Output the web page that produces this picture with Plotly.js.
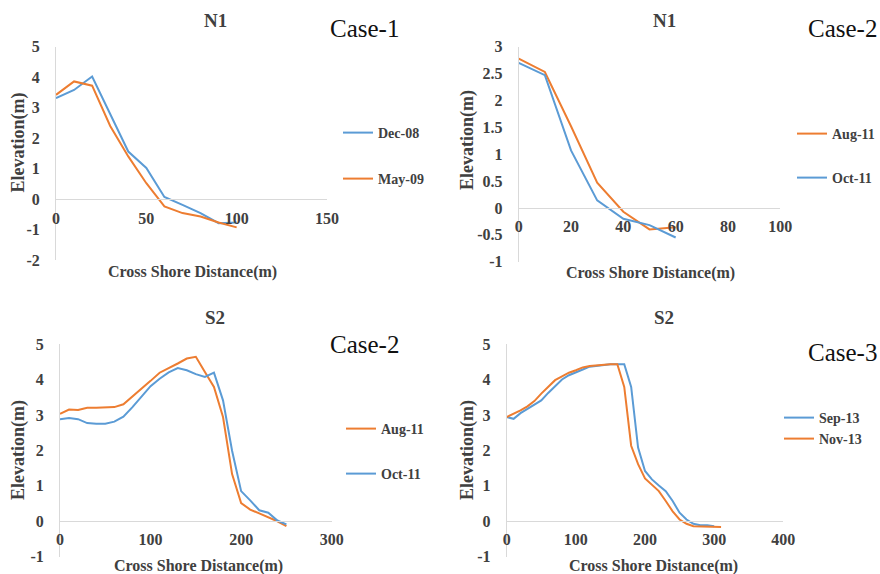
<!DOCTYPE html>
<html>
<head>
<meta charset="utf-8">
<script src="https://cdn.plot.ly/plotly-3.0.1.min.js"></script>
<style>html,body{margin:0;padding:0;background:#fff;}#chart{width:880px;height:574px;}</style>
</head>
<body>
<div id="chart"></div>
<script>
// ---------- DATA ----------
// Panel 1: N1, Case-1
const p1X = [0, 10, 20, 30, 40, 50, 60, 70, 80, 90, 100];
const p1Dec08 = [3.31, 3.58, 4.02, 2.77, 1.56, 1.02, 0.07, -0.19, -0.46, -0.79, -0.77];
const p1May09 = [3.42, 3.86, 3.72, 2.40, 1.40, 0.52, -0.24, -0.46, -0.57, -0.77, -0.93];
// Panel 2: N1, Case-2
const p2X = [0, 10, 20, 30, 40, 50, 60];
const p2Aug11 = [2.78, 2.53, 1.52, 0.47, -0.07, -0.40, -0.36];
const p2Oct11 = [2.70, 2.47, 1.07, 0.14, -0.20, -0.32, -0.55];
// Panel 3: S2, Case-2
const p3X = [0, 10, 20, 30, 40, 50, 60, 70, 80, 90, 100, 110, 120, 130, 140, 150, 160, 170, 180, 190, 200, 210, 220, 230, 240, 250];
const p3Aug11 = [3.03, 3.15, 3.14, 3.20, 3.20, 3.20, 3.22, 3.30, 3.52, 3.72, 3.96, 4.19, 4.31, 4.45, 4.59, 4.64, 4.21, 3.79, 2.94, 1.33, 0.51, 0.33, 0.22, 0.11, 0.00, -0.14];
const p3Oct11 = [2.88, 2.91, 2.88, 2.77, 2.75, 2.75, 2.81, 2.95, 3.22, 3.52, 3.81, 4.02, 4.20, 4.32, 4.26, 4.15, 4.07, 4.19, 3.41, 1.99, 0.85, 0.59, 0.31, 0.24, 0.02, -0.09];
// Panel 4: S2, Case-3
const p4SepX = [0, 10, 20, 30, 40, 50, 60, 70, 80, 90, 100, 110, 120, 130, 140, 150, 160, 170, 180, 190, 200, 210, 220, 230, 240, 250, 260, 270, 280, 290, 300];
const p4Sep13 = [2.94, 2.89, 3.05, 3.17, 3.27, 3.41, 3.62, 3.81, 4.00, 4.12, 4.21, 4.28, 4.36, 4.39, 4.42, 4.43, 4.43, 4.43, 3.79, 2.08, 1.42, 1.18, 1.01, 0.85, 0.57, 0.24, 0.05, -0.07, -0.11, -0.11, -0.14];
const p4NovX = [0, 10, 20, 30, 40, 50, 60, 70, 80, 90, 100, 110, 120, 130, 140, 150, 160, 170, 180, 190, 200, 210, 220, 230, 240, 250, 260, 270, 280, 290, 300, 310];
const p4Nov13 = [2.94, 3.03, 3.13, 3.24, 3.39, 3.60, 3.79, 3.98, 4.09, 4.19, 4.26, 4.34, 4.38, 4.40, 4.43, 4.43, 4.43, 3.79, 2.13, 1.61, 1.21, 1.04, 0.85, 0.57, 0.28, 0.05, -0.07, -0.14, -0.14, -0.14, -0.16, -0.16];

// Tick values / labels
const p1XTicks = [0, 50, 100, 150];
const p1YTicks = [-2, -1, 0, 1, 2, 3, 4, 5];
const p1YLabels = ['-2', '-1', '0', '1', '2', '3', '4', '5'];
const p2XTicks = [0, 20, 40, 60, 80, 100];
const p2YTicks = [-1, -0.5, 0, 0.5, 1, 1.5, 2, 2.5, 3];
const p2YLabels = ['-1', '-0.5', '0', '0.5', '1', '1.5', '2', '2.5', '3'];
const p3XTicks = [0, 100, 200, 300];
const p4XTicks = [0, 100, 200, 300, 400];
const p34YTicks = [-1, 0, 1, 2, 3, 4, 5];
const p34YLabels = ['-1', '0', '1', '2', '3', '4', '5'];

const titles = ['N1', 'N1', 'S2', 'S2'];
const cases = ['Case-1', 'Case-2', 'Case-2', 'Case-3'];
const xTitle = 'Cross Shore Distance(m)';
const yTitle = 'Elevation(m)';

// ---------- STYLE / LAYOUT ----------
const W = 880, H = 574;
const fx = p => p / W;
const fy = p => 1 - p / H;
const BLUE = '#5B9BD5', ORANGE = '#ED7D31';
const AXC = '#D9D9D9', TXT = '#404040';
const SERIF = '"Liberation Serif", "Times New Roman", serif';
const tickFont = {family: SERIF, size: 16, color: TXT, weight: 'bold'};
const legFont = {family: SERIF, size: 14, color: TXT, weight: 'bold'};

// pixel boxes
const boxes = [
  {l: 56, r: 327, t: 46.7, b: 260, z: 199.3, xr: [0, 150], yr: [-2, 5]},
  {l: 518.7, r: 780.3, t: 46.7, b: 261.7, z: 207.9, xr: [0, 100], yr: [-1, 3]},
  {l: 60, r: 331.7, t: 344, b: 556.7, z: 521.2, xr: [0, 300], yr: [-1, 5]},
  {l: 506.7, r: 783.3, t: 344, b: 556.7, z: 521.2, xr: [0, 400], yr: [-1, 5]}
];
const xTickSets = [p1XTicks, p2XTicks, p3XTicks, p4XTicks];
const yTickSets = [p1YTicks, p2YTicks, p34YTicks, p34YTicks];
const yLabelSets = [p1YLabels, p2YLabels, p34YLabels, p34YLabels];

function line(x, y, name, color, ax, leg) {
  return {x: x, y: y, name: name, type: 'scatter', mode: 'lines',
    line: {color: color, width: 2}, xaxis: 'x' + ax, yaxis: 'y' + ax,
    legend: leg, hoverinfo: 'x+y+name'};
}
const data = [
  line(p1X, p1Dec08, 'Dec-08', BLUE, '', 'legend'),
  line(p1X, p1May09, 'May-09', ORANGE, '', 'legend2'),
  line(p2X, p2Aug11, 'Aug-11', ORANGE, '2', 'legend3'),
  line(p2X, p2Oct11, 'Oct-11', BLUE, '2', 'legend4'),
  line(p3X, p3Aug11, 'Aug-11', ORANGE, '3', 'legend5'),
  line(p3X, p3Oct11, 'Oct-11', BLUE, '3', 'legend6'),
  line(p4SepX, p4Sep13, 'Sep-13', BLUE, '4', 'legend7'),
  line(p4NovX, p4Nov13, 'Nov-13', ORANGE, '4', 'legend8')
];

const layout = {
  width: W, height: H, margin: {l: 0, r: 0, t: 0, b: 0},
  paper_bgcolor: '#fff', plot_bgcolor: 'rgba(0,0,0,0)',
  showlegend: true, annotations: []
};

boxes.forEach((b, i) => {
  const s = i === 0 ? '' : String(i + 1);
  layout['xaxis' + s] = {
    domain: [fx(b.l), fx(b.r)], range: b.xr, anchor: 'free', position: fy(b.z),
    showline: true, linecolor: AXC, linewidth: 1, showgrid: false, zeroline: false,
    ticks: '', tickmode: 'array', tickvals: xTickSets[i], ticktext: xTickSets[i].map(String),
    tickfont: tickFont, ticklabelstandoff: 4, fixedrange: true
  };
  layout['yaxis' + s] = {
    domain: [fy(b.b), fy(b.t)], range: b.yr, anchor: 'x' + s,
    showline: true, linecolor: AXC, linewidth: 1, showgrid: false, zeroline: false,
    ticks: '', tickmode: 'array', tickvals: yTickSets[i], ticktext: yLabelSets[i],
    tickfont: tickFont, ticklabelstandoff: 12, fixedrange: true
  };
});

// Titles, case labels, axis titles
const titlePos = [[215, 20], [664, 20], [215, 317], [664, 317]];
const casePos = [[364, 28], [842, 28], [364, 345], [842, 352]];
const xTitlePos = [[192, 272], [650, 273], [198, 566], [653, 566]];
const yTitlePos = [[17.5, 143], [467, 140], [18, 450], [467, 450]];
for (let i = 0; i < 4; i++) {
  layout.annotations.push({text: titles[i], xref: 'paper', yref: 'paper',
    x: fx(titlePos[i][0]), y: fy(titlePos[i][1]), xanchor: 'center', yanchor: 'middle',
    showarrow: false, font: {family: SERIF, size: 19, color: TXT, weight: 'bold'}});
  layout.annotations.push({text: cases[i], xref: 'paper', yref: 'paper',
    x: fx(casePos[i][0]), y: fy(casePos[i][1]), xanchor: 'center', yanchor: 'middle',
    showarrow: false, font: {family: SERIF, size: 25, color: '#111'}});
  layout.annotations.push({text: xTitle, xref: 'paper', yref: 'paper',
    x: fx(xTitlePos[i][0]), y: fy(xTitlePos[i][1]), xanchor: 'center', yanchor: 'middle',
    showarrow: false, font: {family: SERIF, size: 16, color: TXT, weight: 'bold'}});
  layout.annotations.push({text: yTitle, xref: 'paper', yref: 'paper', textangle: -90,
    x: fx(yTitlePos[i][0]), y: fy(yTitlePos[i][1]), xanchor: 'center', yanchor: 'middle',
    showarrow: false, font: {family: SERIF, size: 18, color: TXT, weight: 'bold'}});
}

// Legends (one per item)
const legPos = [[349, 133], [349, 179], [803, 134], [803, 178], [352, 429], [352, 474], [790, 418], [790, 439]];
legPos.forEach((p, i) => {
  const key = i === 0 ? 'legend' : 'legend' + (i + 1);
  layout[key] = {x: fx(p[0] - 11), y: fy(p[1]), xanchor: 'left', yanchor: 'middle',
    bgcolor: 'rgba(0,0,0,0)', borderwidth: 0, font: legFont, itemwidth: 30};
});

Plotly.newPlot('chart', data, layout, {displayModeBar: false});
</script>
</body>
</html>
